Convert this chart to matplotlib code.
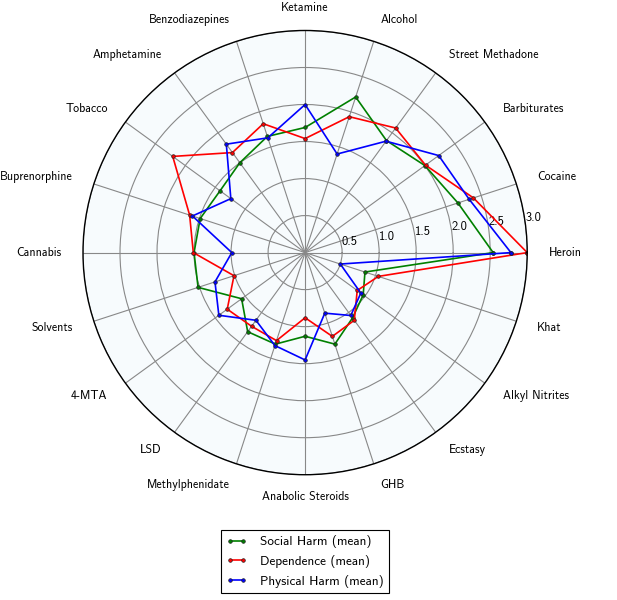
import numpy as np
import matplotlib
matplotlib.use("Agg")
import matplotlib.pyplot as plt

drugs = ["Heroin", "Cocaine", "Barbiturates", "Street Methadone", "Alcohol",
         "Ketamine", "Benzodiazepines", "Amphetamine", "Tobacco", "Buprenorphine",
         "Cannabis", "Solvents", "4-MTA", "LSD", "Methylphenidate",
         "Anabolic Steroids", "GHB", "Ecstasy", "Alkyl Nitrites", "Khat"]
physical = [2.78, 2.33, 2.23, 1.86, 1.40, 2.00, 1.63, 1.81, 1.24, 1.60,
            0.99, 1.28, 1.44, 1.13, 1.32, 1.45, 0.86, 1.05, 0.93, 0.50]
dependence = [3.00, 2.39, 2.01, 2.08, 1.93, 1.54, 1.83, 1.67, 2.21, 1.64,
              1.51, 1.01, 1.30, 1.23, 1.25, 0.88, 1.19, 1.13, 0.87, 1.04]
social = [2.54, 2.17, 2.00, 1.87, 2.21, 1.69, 1.65, 1.50, 1.42, 1.49,
          1.50, 1.52, 1.06, 1.32, 1.30, 1.13, 1.30, 1.09, 0.97, 0.85]
series_names = ["Social Harm (mean)", "Dependence (mean)", "Physical Harm (mean)"]
r_ticks = [0.5, 1.0, 1.5, 2.0, 2.5, 3.0]

plt.rcParams['font.family'] = ['cmss10', 'DejaVu Sans']
plt.rcParams['axes.formatter.use_mathtext'] = True

fig = plt.figure(figsize=(6.17, 6.0), dpi=100)
ax = fig.add_axes([0.1345, 0.208, 0.72, 0.742], projection='polar')
ax.set_facecolor('#f7fbfd')

n = len(drugs)
theta = np.arange(n) * 2 * np.pi / n
theta_c = np.append(theta, theta[0])

for vals, col, name in [(social, 'g', series_names[0]),
                        (dependence, 'r', series_names[1]),
                        (physical, 'b', series_names[2])]:
    v = np.append(vals, vals[0])
    ax.plot(theta_c, v, color=col, marker='o', markersize=2.6, linewidth=1.2,
            markeredgecolor='#222222', markeredgewidth=0.5, label=name)

rmax = 3.0
ax.set_ylim(0, rmax)
ax.set_yticks(r_ticks)
ax.set_yticklabels([f"{t:.1f}" for t in r_ticks], fontsize=9)
ax.set_rlabel_position(7.5)
ax.set_xticks(theta)
ax.set_xticklabels([])
ax.grid(True, color='#888888', linewidth=0.8)
ax.spines['polar'].set_color('black')
ax.spines['polar'].set_linewidth(1.0)

r_lab = rmax * (222 + 22) / 222.0
for t, name in zip(theta, drugs):
    c = np.cos(t)
    if c > 0.05:
        ha = 'left'
    elif c < -0.05:
        ha = 'right'
    else:
        ha = 'center'
    ax.text(t, r_lab, name, ha=ha, va='center', fontsize=8.6, clip_on=False)

leg = fig.legend(loc='lower center', bbox_to_anchor=(305 / 617, 0.012), fontsize=9.5,
                 fancybox=False, edgecolor='black', framealpha=1, handlelength=1.6,
                 handletextpad=1.0, numpoints=2, borderaxespad=0)
leg.get_frame().set_linewidth(0.8)

fig.savefig('out.png', dpi=100)
